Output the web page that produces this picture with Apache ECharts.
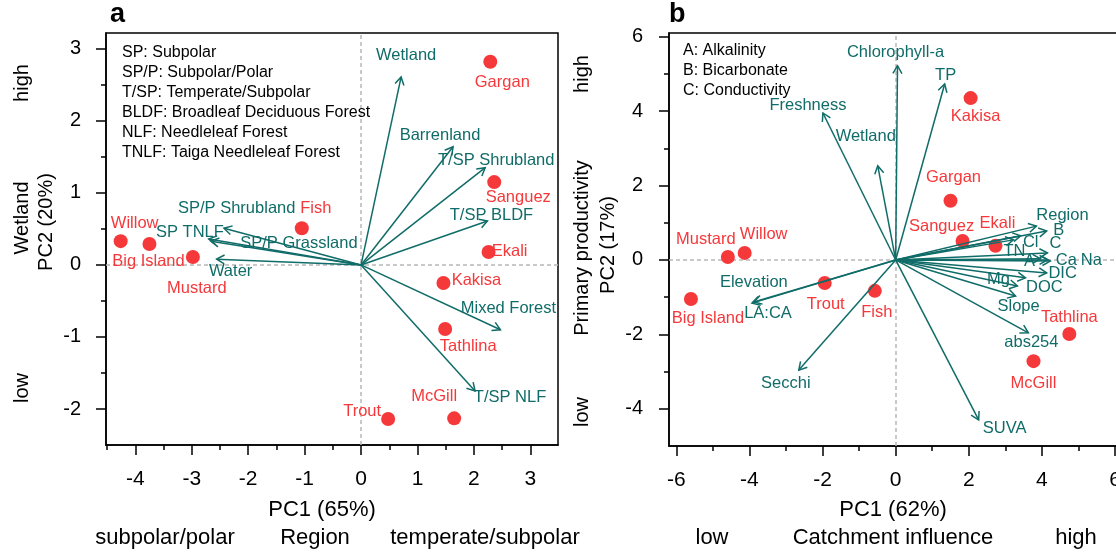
<!DOCTYPE html>
<html><head><meta charset="utf-8">
<script src="https://cdn.jsdelivr.net/npm/echarts@6/dist/echarts.min.js"></script>
<style>html,body{margin:0;padding:0;background:#fff}#c{width:1116px;height:554px}</style>
</head><body><div id="c"></div>
<script>
// ---------- Panel a data ----------
const lakesA = ['Gargan','Sanguez','Fish','Willow','Big Island','Mustard','Ekali','Kakisa','Tathlina','Trout','McGill'];
const lakesA_PC1 = [2.29, 2.36, -1.05, -4.26, -3.75, -2.98, 2.26, 1.46, 1.49, 0.48, 1.65];
const lakesA_PC2 = [2.82, 1.15, 0.51, 0.33, 0.29, 0.11, 0.18, -0.25, -0.89, -2.14, -2.13];
const varsA = ['Wetland','Barrenland','T/SP Shrubland','T/SP BLDF','Mixed Forest','T/SP NLF','SP TNLF','SP/P Shrubland','SP/P Grassland','Water'];
const varsA_PC1 = [0.71, 1.63, 2.20, 2.24, 2.47, 2.02, -2.43, -2.70, -2.66, -2.56];
const varsA_PC2 = [2.61, 1.64, 1.35, 0.61, -0.90, -1.75, 0.51, 0.36, 0.33, 0.08];
const legendA = ['SP: Subpolar','SP/P: Subpolar/Polar','T/SP: Temperate/Subpolar','BLDF: Broadleaf Deciduous Forest','NLF: Needleleaf Forest','TNLF: Taiga Needleleaf Forest'];
const xTicksA = [-4,-3,-2,-1,0,1,2,3];
const xMinorA = [-4.5,-3.5,-2.5,-1.5,-0.5,0.5,1.5,2.5];
const yTicksA = [-2,-1,0,1,2,3];
const yMinorA = [-1.5,-0.5,0.5,1.5,2.5];

// ---------- Panel b data ----------
const lakesB = ['Kakisa','Gargan','Sanguez','Ekali','Mustard','Willow','Big Island','Trout','Fish','Tathlina','McGill'];
const lakesB_PC1 = [2.05, 1.50, 1.83, 2.73, -4.59, -4.13, -5.60, -1.94, -0.57, 4.75, 3.77];
const lakesB_PC2 = [4.35, 1.59, 0.51, 0.38, 0.08, 0.19, -1.05, -0.62, -0.83, -1.99, -2.72];
const varsB = ['Chlorophyll-a','TP','Freshness','Wetland','Region','B','Cl','TN','C','A','Ca','Na','DIC','Mg','DOC','Slope','abs254','SUVA','Secchi','Elevation','LA:CA'];
const varsB_PC1 = [0.05, 1.34, -1.99, -0.49, 3.85, 4.13, 3.42, 3.22, 4.15, 3.96, 4.15, 4.23, 4.13, 3.55, 3.33, 3.28, 3.63, 2.27, -2.65, -3.88, -3.93];
const varsB_PC2 = [5.22, 4.73, 3.95, 2.53, 0.91, 0.78, 0.65, 0.54, 0.19, 0.03, 0.00, -0.03, -0.35, -0.48, -0.70, -0.97, -1.96, -4.30, -2.96, -1.13, -1.16];
const legendB = ['A: Alkalinity','B: Bicarbonate','C: Conductivity'];
const xTicksB = [-6,-4,-2,0,2,4,6];
const xMinorB = [-5,-3,-1,1,3,5];
const yTicksB = [-4,-2,0,2,4,6];
const yMinorB = [-3,-1,1,3,5];

// ---------- label placement (pixel offsets from mark) ----------
const lakeOffA = [[12,21],[24,15],[14,-20],[14,-18],[-1,17],[4,31],[21,-1],[33,-2],[23,17],[-26,-8],[-20,-22]];
const varOffA = [[5,-21],[-13,-11],[11,-7],[4,-6],[8,-21],[35,6],[-34,4],[28,-31],[88,2],[14,12]];
const lakeOffB = [[5,18],[3,-23],[-21,-15],[2,-22],[-22,-18],[19,-18],[17,19],[1,21],[2,22],[0,-17],[0,22]];
const varOffB = [[-2,-13],[1,-9],[-15,-8],[-12,-29],[26,-11],[12,0],[10,7],[1,12],[8,-9],[-11,3],[19,0],[41,-1],[16,0],[-27,2],[27,1],[3,10],[3,10],[26,8],[-13,13],[0,-20],[16,10]];

const TEAL = '#106c68', RED = '#f5383a';
const FF = '"Liberation Sans", Arial, sans-serif';

function axes(gridIndex, min, max, majors, minors, pos, margin, fs) {
  const common = {type:'value', gridIndex, min, max, position:pos, splitLine:{show:false}};
  const major = Object.assign({}, common, {
    axisLine:{show:true, onZero:false, lineStyle:{color:'#000', width:1.5}},
    axisTick:{show:true, inside:false, length:10, customValues:majors, lineStyle:{color:'#000', width:1.5}},
    axisLabel:{show:true, customValues:majors, margin:margin, fontSize:fs, fontFamily:FF, color:'#000', hideOverlap:false}
  });
  const minor = Object.assign({}, common, {
    axisLine:{show:false, onZero:false},
    axisTick:{show:true, inside:false, length:5, customValues:minors, lineStyle:{color:'#000', width:1.5}},
    axisLabel:{show:false}
  });
  return [major, minor];
}

function zip(a, b) { return a.map((v, i) => [v, b[i], i]); }

function arrowSeries(xi, data) {
  return {
    type:'custom', xAxisIndex:xi, yAxisIndex:xi, z:4, silent:true,
    data: data,
    renderItem: function (params, api) {
      const o = api.coord([0, 0]);
      const t = api.coord([api.value(0), api.value(1)]);
      const ang = Math.atan2(t[1] - o[1], t[0] - o[0]);
      const L = 9, a = Math.PI / 6;
      const p1 = [t[0] - L * Math.cos(ang - a), t[1] - L * Math.sin(ang - a)];
      const p2 = [t[0] - L * Math.cos(ang + a), t[1] - L * Math.sin(ang + a)];
      return {type:'group', children:[
        {type:'line', shape:{x1:o[0], y1:o[1], x2:t[0], y2:t[1]}, style:{stroke:TEAL, lineWidth:1.5}},
        {type:'polyline', shape:{points:[p1, t, p2]}, style:{stroke:TEAL, lineWidth:1.5, fill:null}}
      ]};
    }
  };
}

function labelSeries(xi, data, names, offs, color) {
  return {
    type:'custom', xAxisIndex:xi, yAxisIndex:xi, z:5, silent:true,
    data: data,
    renderItem: function (params, api) {
      const i = api.value(2);
      const p = api.coord([api.value(0), api.value(1)]);
      return {type:'text', x:p[0] + offs[i][0], y:p[1] + offs[i][1],
        style:{text:names[i], fill:color, font:'16.5px ' + FF,
          textAlign:'center', textVerticalAlign:'middle', align:'center', verticalAlign:'middle'}};
    }
  };
}

function dotSeries(xi, data) {
  return {
    type:'scatter', xAxisIndex:xi, yAxisIndex:xi, z:3, silent:true,
    symbol:'circle', symbolSize:14, itemStyle:{color:RED, opacity:1}, data:data.map(d => [d[0], d[1]]),
    markLine:{silent:true, symbol:['none','none'], label:{show:false}, z:1,
      lineStyle:{color:'#b8b8b8', type:[4,3], width:1.5},
      data:[{xAxis:0}, {yAxis:0}]}
  };
}

function txt(x, y, s, size, opts) {
  opts = opts || {};
  return {type:'text', x:x, y:y, rotation:opts.rot || 0, z:10, silent:true,
    style:{text:s, fill:opts.color || '#000', font:(opts.bold ? 'bold ' : '') + size + 'px ' + FF,
      textAlign:opts.align || 'center', textVerticalAlign:'middle', align:opts.align || 'center', verticalAlign:'middle'}};
}

const graphics = [];
graphics.push(txt(110, 15, 'a', 27, {bold:true, align:'left'}));
graphics.push(txt(669, 15, 'b', 27, {bold:true, align:'left'}));
legendA.forEach((s, i) => graphics.push(txt(122, 53 + 20 * i, s, 16, {align:'left'})));
legendB.forEach((s, i) => graphics.push(txt(683, 51 + 20 * i, s, 16, {align:'left'})));
graphics.push(txt(322, 510, 'PC1 (65%)', 22));
graphics.push(txt(165, 538, 'subpolar/polar', 22));
graphics.push(txt(315, 538, 'Region', 22));
graphics.push(txt(485, 538, 'temperate/subpolar', 22));
graphics.push(txt(893, 510, 'PC1 (62%)', 22));
graphics.push(txt(712, 538, 'low', 22));
graphics.push(txt(893, 538, 'Catchment influence', 22));
graphics.push(txt(1076, 538, 'high', 22));
const R = Math.PI / 2;
graphics.push(txt(22, 83, 'high', 20, {rot:R}));
graphics.push(txt(22, 218, 'Wetland', 20, {rot:R}));
graphics.push(txt(22, 388, 'low', 20, {rot:R}));
graphics.push(txt(46, 222, 'PC2 (20%)', 20, {rot:R}));
graphics.push(txt(582, 74, 'high', 20, {rot:R}));
graphics.push(txt(582, 248, 'Primary productivity', 20, {rot:R}));
graphics.push(txt(582, 412, 'low', 20, {rot:R}));
graphics.push(txt(608, 245, 'PC2 (17%)', 20, {rot:R}));

const xa = axes(0, -4.52, 3.49, xTicksA, xMinorA, 'bottom', 24, 21);
const ya = axes(0, -2.5, 3.22, yTicksA, yMinorA, 'left', 25, 20);
const xb = axes(1, -6.2, 6.3, xTicksB, xMinorB, 'bottom', 24, 21);
const yb = axes(1, -5.0, 6.1, yTicksB, yMinorB, 'left', 26, 20);

const dA = zip(lakesA_PC1, lakesA_PC2), vA = zip(varsA_PC1, varsA_PC2);
const dB = zip(lakesB_PC1, lakesB_PC2), vB = zip(varsB_PC1, varsB_PC2);

const option = {
  animation:false,
  backgroundColor:'#fff',
  grid:[
    {left:106, top:33, width:452, height:412, show:true, borderColor:'#000', borderWidth:1.5, backgroundColor:'transparent', containLabel:false, outerBoundsMode:'none'},
    {left:669, top:33, width:457, height:413, show:true, borderColor:'#000', borderWidth:1.5, backgroundColor:'transparent', containLabel:false, outerBoundsMode:'none'}
  ],
  xAxis:[xa[0], xa[1], xb[0], xb[1]],
  yAxis:[ya[0], ya[1], yb[0], yb[1]],
  graphic:{elements:graphics},
  series:[
    Object.assign(dotSeries(0, dA), {xAxisIndex:0, yAxisIndex:0}),
    Object.assign(arrowSeries(0, vA), {xAxisIndex:0, yAxisIndex:0}),
    Object.assign(labelSeries(0, vA, varsA, varOffA, TEAL), {xAxisIndex:0, yAxisIndex:0}),
    Object.assign(labelSeries(0, dA, lakesA, lakeOffA, RED), {xAxisIndex:0, yAxisIndex:0}),
    Object.assign(dotSeries(2, dB), {xAxisIndex:2, yAxisIndex:2}),
    Object.assign(arrowSeries(2, vB), {xAxisIndex:2, yAxisIndex:2}),
    Object.assign(labelSeries(2, vB, varsB, varOffB, TEAL), {xAxisIndex:2, yAxisIndex:2}),
    Object.assign(labelSeries(2, dB, lakesB, lakeOffB, RED), {xAxisIndex:2, yAxisIndex:2})
  ]
};
const chart = echarts.init(document.getElementById('c'), null, {renderer:'canvas'});
chart.setOption(option);
</script></body></html>
